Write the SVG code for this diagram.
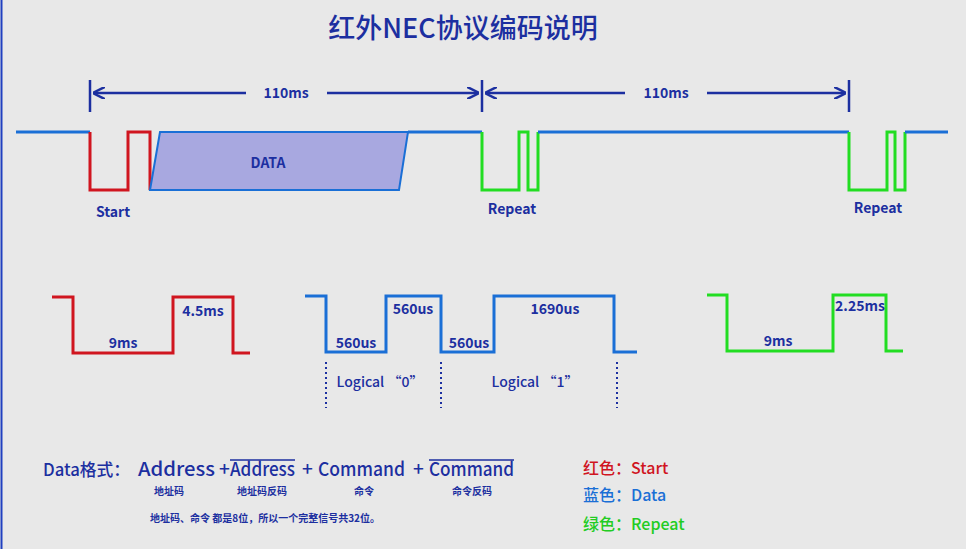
<svg xmlns="http://www.w3.org/2000/svg" width="966" height="549" viewBox="0 0 966 549">
<defs>
<style>
.t{font-family:"Noto Sans CJK SC","Liberation Sans",sans-serif;fill:#1c2fa0;font-weight:bold}
.n{font-weight:500}
.w{fill:none;stroke-width:3;stroke-linejoin:miter}
.r{stroke:#d0151f}.b{stroke:#1a6fd6}.g{stroke:#22dd22}
.dim{stroke:#1c2fa0;stroke-width:2.5;fill:none}
</style>
<marker id="ah" viewBox="0 0 10 10" refX="9" refY="5" markerWidth="5" markerHeight="5" orient="auto-start-reverse"><path d="M0,0L10,5L0,10" fill="none" stroke="#1c2fa0" stroke-width="2"/></marker>
</defs>
<rect width="966" height="549" fill="#e8e8e8"/>
<line x1="1.5" y1="0" x2="1.5" y2="549" stroke="#2040c0" stroke-width="2"/>
<text x="463" y="38" text-anchor="middle" class="t" font-size="27" style="font-weight:500">红外NEC协议编码说明</text>
<g id="dims">
<line class="dim" x1="90" y1="80" x2="90" y2="112"/><line class="dim" x1="482" y1="80" x2="482" y2="112"/><line class="dim" x1="849" y1="80" x2="849" y2="112"/>
<line class="dim" x1="94" y1="93" x2="246" y2="93" marker-start="url(#ah)"/><line class="dim" x1="327" y1="93" x2="478" y2="93" marker-end="url(#ah)"/>
<line class="dim" x1="486" y1="93" x2="625" y2="93" marker-start="url(#ah)"/><line class="dim" x1="707" y1="93" x2="845" y2="93" marker-end="url(#ah)"/>
<text x="286" y="98" text-anchor="middle" class="t" font-size="14">110ms</text>
<text x="666" y="98" text-anchor="middle" class="t" font-size="14">110ms</text>
</g>
<g id="top-wave">
<polyline class="w b" points="16,132 90,132"/>
<polyline class="w r" points="90,132 90,190 128,190 128,132 150,132 150,190"/>
<polygon points="150,190 160,132 408,132 399,190" fill="#a8a8e0" stroke="#1a6fd6" stroke-width="2"/>
<polyline class="w b" points="408,132 482,132"/>
<polyline class="w g" points="482,132 482,190 519,190 519,132 528,132 528,190 538,190 538,132"/>
<polyline class="w b" points="538,132 849,132"/>
<polyline class="w g" points="849,132 849,190 887,190 887,132 895,132 895,190 905,190 905,132"/>
<polyline class="w b" points="905,132 948,132"/>
<text x="268" y="168" text-anchor="middle" class="t" font-size="14">DATA</text>
<text x="113" y="217" text-anchor="middle" class="t" font-size="14">Start</text>
<text x="512" y="214" text-anchor="middle" class="t" font-size="14">Repeat</text>
<text x="878" y="213" text-anchor="middle" class="t" font-size="14">Repeat</text>
</g>
<g id="start-detail">
<polyline class="w r" points="52,297 73,297 73,353 173,353 173,297 233,297 233,353 250,353"/>
<text x="123" y="348" text-anchor="middle" class="t" font-size="14">9ms</text>
<text x="203" y="316" text-anchor="middle" class="t" font-size="14">4.5ms</text>
</g>
<g id="data-detail">
<polyline class="w b" points="305,296 326,296 326,352 386,352 386,296 441,296 441,352 494,352 494,296 614,296 614,352 637,352"/>
<g stroke="#1c2fa0" stroke-width="2" stroke-dasharray="2,3"><line x1="326" y1="362" x2="326" y2="408"/><line x1="441" y1="362" x2="441" y2="408"/><line x1="617" y1="362" x2="617" y2="408"/></g>
<text x="356" y="348" text-anchor="middle" class="t" font-size="14">560us</text>
<text x="413" y="314" text-anchor="middle" class="t" font-size="14">560us</text>
<text x="469" y="348" text-anchor="middle" class="t" font-size="14">560us</text>
<text x="555" y="314" text-anchor="middle" class="t" font-size="14">1690us</text>
<text x="380" y="387" text-anchor="middle" class="t n" font-size="14">Logical  “0”</text>
<text x="535" y="387" text-anchor="middle" class="t n" font-size="14">Logical  “1”</text>
</g>
<g id="repeat-detail">
<polyline class="w g" points="707,295 727,295 727,351 833,351 833,295 886,295 886,351 903,351"/>
<text x="778" y="346" text-anchor="middle" class="t" font-size="14">9ms</text>
<text x="860" y="311" text-anchor="middle" class="t" font-size="14">2.25ms</text>
</g>
<g id="format">
<text x="43" y="476" class="t n" font-size="17" textLength="87" lengthAdjust="spacingAndGlyphs">Data格式：</text>
<g font-size="19">
<text x="138" y="476" class="t n" textLength="77" lengthAdjust="spacingAndGlyphs">Address</text>
<text x="219" y="476" class="t n">+</text>
<text x="230" y="476" class="t n" textLength="65" lengthAdjust="spacingAndGlyphs">Address</text>
<text x="302" y="476" class="t n">+</text>
<text x="318" y="476" class="t n" textLength="87" lengthAdjust="spacingAndGlyphs">Command</text>
<text x="413" y="476" class="t n">+</text>
<text x="429" y="476" class="t n" textLength="85" lengthAdjust="spacingAndGlyphs">Command</text>
</g>
<line x1="230" y1="460" x2="295" y2="460" stroke="#1c2fa0" stroke-width="1.5"/>
<line x1="429" y1="460" x2="514" y2="460" stroke="#1c2fa0" stroke-width="1.5"/>
<g font-size="10"><text x="169" y="495" text-anchor="middle" class="t">地址码</text>
<text x="262" y="495" text-anchor="middle" class="t">地址码反码</text>
<text x="364" y="495" text-anchor="middle" class="t">命令</text>
<text x="472" y="495" text-anchor="middle" class="t">命令反码</text>
<text x="150" y="522" class="t">地址码、命令 都是8位，所以一个完整信号共32位。</text></g>
</g>
<g id="legend" font-size="16">
<text x="583" y="474" class="t n" style="fill:#d0151f">红色：Start</text>
<text x="583" y="501" class="t n" style="fill:#1a6fd6">蓝色：Data</text>
<text x="583" y="530" class="t n" style="fill:#22cc22">绿色：Repeat</text>
</g>
</svg>
